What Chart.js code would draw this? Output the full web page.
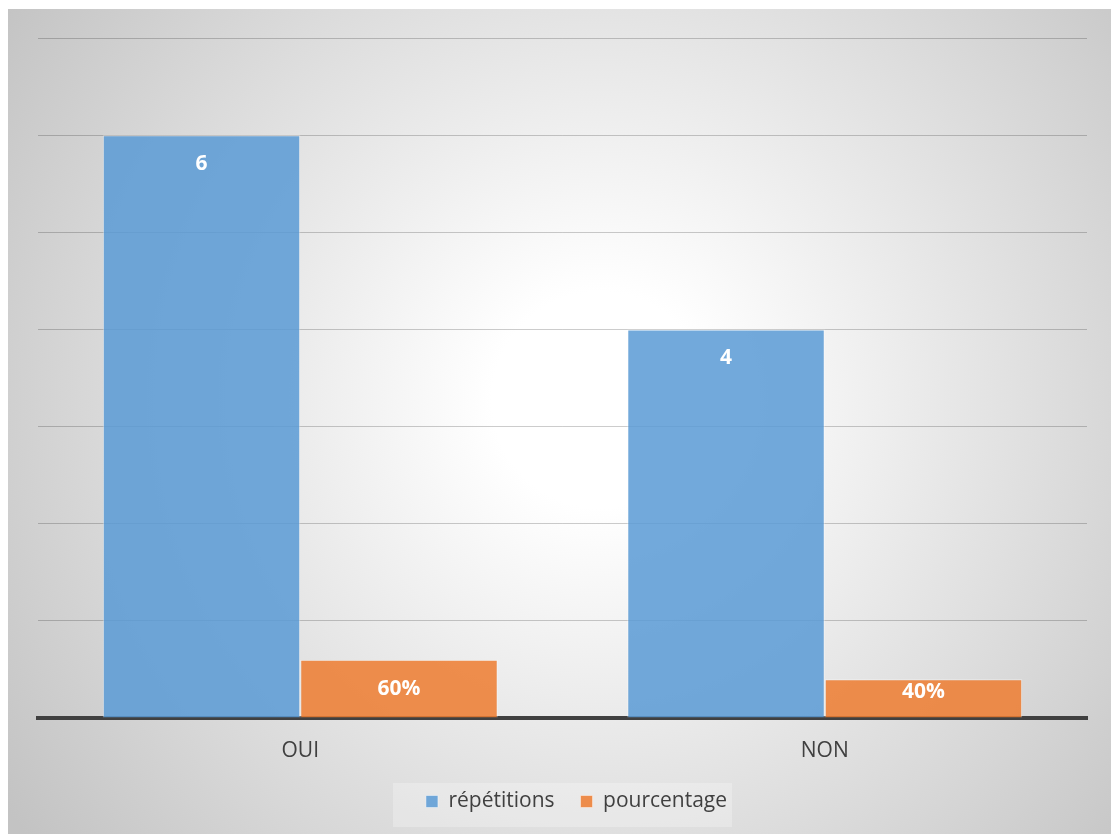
<!DOCTYPE html>
<html>
<head>
<meta charset="utf-8">
<script src="https://cdn.jsdelivr.net/npm/chart.js@4.4.1/dist/chart.umd.min.js"></script>
<style>
  html, body { margin: 0; padding: 0; background: #ffffff; }
  #wrap { position: absolute; left: 8px; top: 9px; width: 1103px; height: 825px; }
</style>
</head>
<body>
<div id="wrap"><canvas id="myChart"></canvas></div>
<script>
const categories = ['OUI', 'NON'];
const repetitions = [6, 4];
const pourcentage = [0.6, 0.4];
const seriesNames = ['répétitions', 'pourcentage'];

const FONT = '"Open Sans", "DejaVu Sans", sans-serif';

// radial grey backdrop behind the whole chart, plus the faint box behind the legend
const backdrop = {
  id: 'backdrop',
  afterLayout(chart) {
    // legend sits a little right of centre
    chart.legend.left += 14;
    chart.legend.right += 14;
  },
  beforeDraw(chart) {
    const ctx = chart.ctx;
    const w = chart.width, h = chart.height;
    const cx = 592, cy = 391;
    const g = ctx.createRadialGradient(cx, cy, 0, cx, cy, 720);
    g.addColorStop(0, '#ffffff');
    g.addColorStop(0.15, '#ffffff');
    g.addColorStop(1, '#c3c3c3');
    ctx.save();
    ctx.fillStyle = g;
    ctx.fillRect(0, 0, w, h);

    const boxes = chart.legend.legendHitBoxes;
    if (boxes && boxes.length) {
      const first = boxes[0], last = boxes[boxes.length - 1];
      ctx.fillStyle = 'rgba(255,255,255,0.25)';
      ctx.fillRect(first.left - 33, first.top - 8, last.left + last.width - first.left + 38, 44);
    }
    ctx.restore();
  }
};

// value labels inside the top of each bar
const barLabels = {
  id: 'barLabels',
  afterDatasetsDraw(chart) {
    const ctx = chart.ctx;
    ctx.save();
    ctx.font = 'bold 21px ' + FONT;
    ctx.fillStyle = '#ffffff';
    ctx.textAlign = 'center';
    ctx.textBaseline = 'middle';
    chart.data.datasets.forEach((ds, i) => {
      chart.getDatasetMeta(i).data.forEach((bar, j) => {
        const v = ds.data[j];
        const text = i === 0 ? String(v) : Math.round(v * 100) + '%';
        const y = Math.min(bar.y + 29, bar.base - 25);
        ctx.fillText(text, bar.x, y);
      });
    });
    ctx.restore();
  }
};

const ctx = document.getElementById('myChart');

const configuration = {
  type: 'bar',
  data: {
    labels: categories,
    datasets: [{
      label: seriesNames[0],
      data: repetitions,
      backgroundColor: 'rgba(91,155,213,0.86)',
      borderColor: 'rgba(255,255,255,0.45)',
      borderWidth: 1
    }, {
      label: seriesNames[1],
      data: pourcentage,
      backgroundColor: 'rgba(237,125,49,0.86)',
      borderColor: 'rgba(255,255,255,0.45)',
      borderWidth: 1
    }]
  },
  options: {
    responsive: true,
    maintainAspectRatio: false,
    animation: false,
    datasets: {
      bar: { barPercentage: 1, categoryPercentage: 0.753 }
    },
    layout: { padding: { left: 30, right: 24, top: 29, bottom: 12 } },
    scales: {
      x: {
        grid: { display: false, drawTicks: false },
        border: { display: true, color: '#404040', width: 4 },
        ticks: { color: '#404040', font: { family: FONT, size: 21 }, padding: 20 },
        afterFit(s) { s.height = 47; }
      },
      y: {
        min: 0,
        max: 7,
        ticks: { display: false, stepSize: 1 },
        border: { display: false },
        grid: {
          drawTicks: false,
          color: (c) => c.tick && c.tick.value === 0 ? 'rgba(0,0,0,0)' : 'rgba(0,0,0,0.2)',
          lineWidth: 1
        },
        afterFit(s) { s.width = 0; }
      }
    },
    plugins: {
      legend: {
        position: 'bottom',
        labels: {
          boxWidth: 12,
          boxHeight: 12,
          padding: 26,
          color: '#404040',
          font: { family: FONT, size: 21 }
        }
      },
      tooltip: { enabled: false }
    }
  },
  plugins: [backdrop, barLabels]
};

let chart = new Chart(ctx, configuration);
</script>
</body>
</html>
